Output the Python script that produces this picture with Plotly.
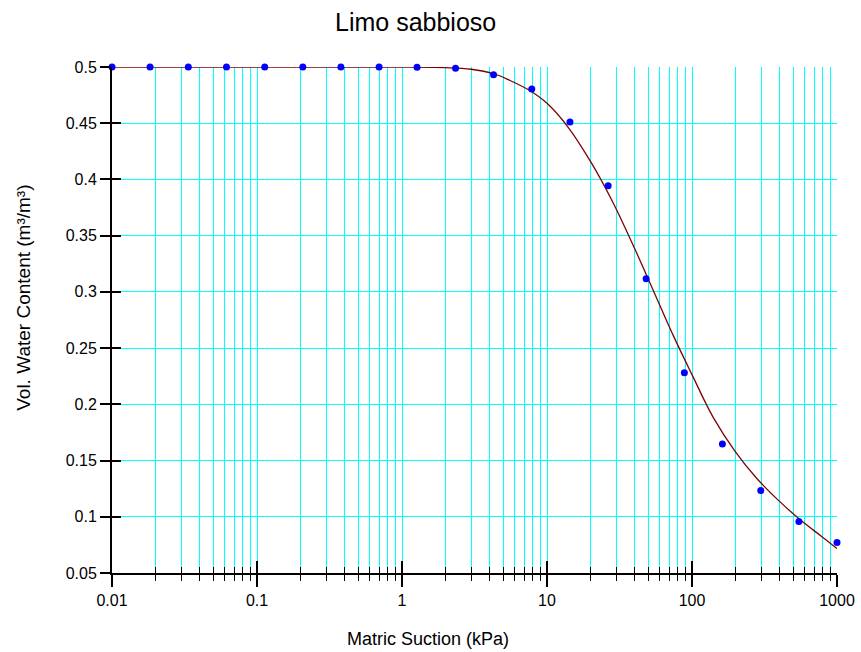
import plotly.graph_objects as go

# Measured data (Matric suction kPa, volumetric water content)
suction = [0.01, 0.0183, 0.0336, 0.0616, 0.113, 0.207, 0.379, 0.695, 1.27, 2.34,
           4.28, 7.85, 14.4, 26.4, 48.3, 88.6, 162, 298, 546, 1000]
theta = [0.5, 0.5, 0.5, 0.5, 0.5, 0.5, 0.5, 0.5, 0.4998, 0.4988,
         0.4931, 0.4804, 0.4511, 0.3945, 0.3116, 0.2280, 0.1648, 0.1233, 0.0958, 0.0771]

# Fitted curve
fit_suction = [0.01, 0.1, 1, 2, 3, 4.3, 5.5, 7.5, 10, 14, 20, 28, 40, 56, 75, 100,
               140, 200, 280, 400, 560, 780, 1000]
fit_theta = [0.5, 0.5, 0.4999, 0.4994, 0.498, 0.494, 0.4883, 0.4795, 0.4677, 0.4464,
             0.4158, 0.3815, 0.3392, 0.2968, 0.260, 0.2264, 0.1884, 0.1574, 0.134,
             0.1139, 0.0971, 0.0827, 0.0718]

x_tick_vals = [0.01, 0.1, 1, 10, 100, 1000]
x_tick_text = ["0.01", "0.1", "1", "10", "100", "1000"]
x_minor_vals = [m * 10 ** e for e in range(-2, 3) for m in range(2, 10)]
y_tick_vals = [0.05, 0.1, 0.15, 0.2, 0.25, 0.3, 0.35, 0.4, 0.45, 0.5]
y_tick_text = ["0.05", "0.1", "0.15", "0.2", "0.25", "0.3", "0.35", "0.4", "0.45", "0.5"]

FONT = "Liberation Sans, Arial, sans-serif"
CYAN = "#00FFFF"

fig = go.Figure()
fig.add_trace(go.Scatter(x=fit_suction, y=fit_theta, mode="lines",
                         line=dict(color="#800000", width=1.3, shape="spline", smoothing=1),
                         cliponaxis=False, hoverinfo="skip", showlegend=False))
fig.add_trace(go.Scatter(x=suction, y=theta, mode="markers",
                         marker=dict(color="#0000FF", size=7),
                         cliponaxis=False, showlegend=False))
# invisible helper trace that carries the overlay axes (inside tick marks)
fig.add_trace(go.Scatter(x=suction, y=theta, mode="markers", xaxis="x2", yaxis="y2",
                         marker=dict(opacity=0), hoverinfo="skip", showlegend=False))

fig.update_layout(
    template="none",
    width=861, height=652,
    margin=dict(l=112, r=24, t=67, b=79, autoexpand=False),
    paper_bgcolor="white", plot_bgcolor="white",
    font=dict(family=FONT, color="black"),
    xaxis=dict(type="log", range=[-2, 3], tickvals=x_tick_vals, ticktext=x_tick_text,
               automargin=False,
               ticks="outside", ticklen=12, tickwidth=2, tickcolor="black",
               showline=True, linecolor="black", linewidth=2,
               showgrid=True, gridcolor=CYAN, gridwidth=1, zeroline=False,
               tickfont=dict(size=16, family=FONT),
               minor=dict(tickmode="array", tickvals=x_minor_vals, ticks="outside",
                          ticklen=6, tickwidth=1, tickcolor="black",
                          showgrid=True, gridcolor=CYAN, gridwidth=1)),
    yaxis=dict(range=[0.05, 0.5], tickvals=y_tick_vals, ticktext=y_tick_text,
               automargin=False,
               ticks="outside", ticklen=10, tickwidth=1.5, tickcolor="black",
               showline=True, linecolor="black", linewidth=2,
               showgrid=True, gridcolor=CYAN, gridwidth=1, zeroline=False,
               tickfont=dict(size=16, family=FONT)),
    xaxis2=dict(type="log", range=[-2, 3], overlaying="x", anchor="y", automargin=False,
                tickvals=x_tick_vals, ticks="inside", ticklen=12, tickwidth=2,
                tickcolor="black", showticklabels=False, showgrid=False,
                showline=False, zeroline=False,
                minor=dict(tickmode="array", tickvals=x_minor_vals, ticks="inside",
                           ticklen=6, tickwidth=1, tickcolor="black", showgrid=False)),
    yaxis2=dict(range=[0.05, 0.5], overlaying="y", anchor="x", side="left", automargin=False,
                tickvals=y_tick_vals, ticks="inside", ticklen=9, tickwidth=1.5,
                tickcolor="black", showticklabels=False, showgrid=False,
                showline=False, zeroline=False),
    annotations=[
        dict(text="Limo sabbioso", xref="paper", yref="paper", x=0.419, y=1.089,
             xanchor="center", yanchor="middle", showarrow=False,
             font=dict(size=25, family=FONT)),
        dict(text="Matric Suction (kPa)", xref="paper", yref="paper", x=0.436, y=-0.131,
             xanchor="center", yanchor="middle", showarrow=False,
             font=dict(size=18, family=FONT)),
        dict(text="Vol. Water Content (m³/m³)", xref="paper", yref="paper", x=-0.122, y=0.543,
             xanchor="center", yanchor="middle", textangle=-90, showarrow=False,
             font=dict(size=19, family=FONT)),
    ],
)

fig.write_html("out.html")
